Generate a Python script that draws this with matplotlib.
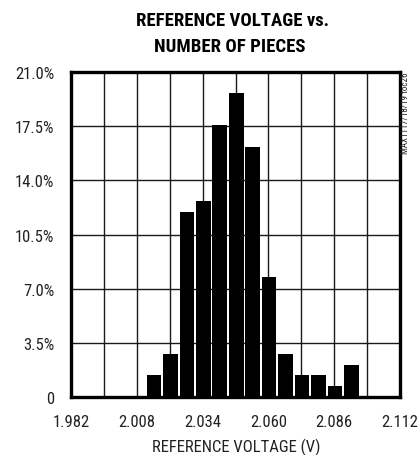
import matplotlib.pyplot as plt
import numpy as np

# bin centers (V) and share of pieces (%)
centers = [2.0148, 2.0213, 2.0278, 2.0343, 2.0408, 2.0473, 2.0538,
           2.0603, 2.0668, 2.0733, 2.0798, 2.0863, 2.0928]
percent = [1.44, 2.79, 11.95, 12.66, 17.6, 19.67, 16.14,
           7.74, 2.79, 1.40, 1.40, 0.69, 2.08]
xticks = [1.982, 2.008, 2.034, 2.060, 2.086, 2.112]
yticks = [0, 3.5, 7.0, 10.5, 14.0, 17.5, 21.0]
ylabels = ["0", "3.5%", "7.0%", "10.5%", "14.0%", "17.5%", "21.0%"]

plt.rcParams['font.family'] = ['Roboto Condensed', 'DejaVu Sans']

fig = plt.figure(figsize=(4.18, 4.56), dpi=100)
ax = fig.add_axes([71/418, 1 - 398/456, 329/418, 325/456])

ax.bar(centers, percent, width=0.0058, color='black', zorder=3)

ax.set_xlim(1.982, 2.112)
ax.set_ylim(0, 21)
ax.set_xticks(np.linspace(1.982, 2.112, 11), minor=True)
ax.set_xticks(xticks)
ax.set_xticklabels(["%.3f" % t for t in xticks], fontsize=12, color='#222222')
ax.set_yticks(yticks)
ax.set_yticklabels(ylabels, fontsize=12, color='#222222')
ax.tick_params(length=0, pad=12, which='both')
ax.grid(True, which='both', axis='x', color='#1a1a1a', lw=1.0, zorder=1)
ax.grid(True, axis='y', color='#1a1a1a', lw=1.0, zorder=1)
for s in ax.spines.values():
    s.set_linewidth(2.4)
    s.set_zorder(4)

fig.text(236/418, 1 - 447/456, "REFERENCE VOLTAGE (V)", ha='center', va='center',
         fontsize=12, color='#222222')

fig.text(232/418, 1 - 21.5/456, "REFERENCE VOLTAGE vs.", ha='center', va='center',
         fontsize=13.5, fontweight='bold')
fig.text(230/418, 1 - 47/456, "NUMBER OF PIECES", ha='center', va='center',
         fontsize=13.5, fontweight='bold')
fig.text(406/418, 1 - 73/456, "MAX1117/18/19 toc26", rotation=90,
         ha='center', va='top', fontsize=6.5, color='#222222')

fig.savefig("out.png", dpi=100)
